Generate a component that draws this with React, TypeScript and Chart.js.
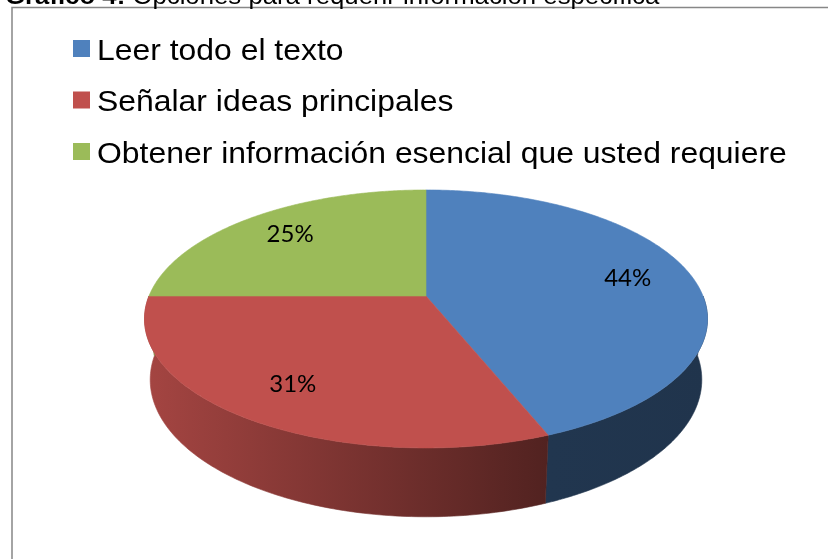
import React, { useEffect, useRef } from "react";
import { Chart, registerables } from "chart.js";

Chart.register(...registerables);

const TITLE_BOLD = "Gráfico 4:";
const TITLE_REST = " Opciones para requerir información específica";
const CATEGORIES = [
  "Leer todo el texto",
  "Señalar ideas principales",
  "Obtener información esencial que usted requiere",
];
const VALUES = [44, 31, 25];
const COLORS = ["#4f81bd", "#c0504d", "#9bbb59"];

const CW = 828;
const CH = 559;

// perspective geometry of the 3D pie
const GEO = { cx: 426, cy: 296, Rx: 277, A: 124.9, B: -0.178, C: 0.02, D: 61 };

function project(theta: number, r: number, h: number) {
  const u = r * Math.cos(theta);
  const v = r * Math.sin(theta);
  const w = 1 + GEO.B * v + GEO.C * h;
  return { x: GEO.cx + (GEO.Rx * u) / w, y: GEO.cy + (GEO.A * v + GEO.D * h) / w };
}

function hexRgb(hex: string) {
  const n = parseInt(hex.slice(1), 16);
  return [(n >> 16) & 255, (n >> 8) & 255, n & 255];
}
function shade(hex: string, f: number) {
  const [r, g, b] = hexRgb(hex);
  return `rgb(${Math.round(r * f)},${Math.round(g * f)},${Math.round(b * f)})`;
}

const pie3d = {
  id: "pie3d",
  beforeDraw(chart: any) {
    const ctx = chart.ctx;
    ctx.save();
    ctx.fillStyle = "#ffffff";
    ctx.fillRect(0, 0, chart.width, chart.height);
    ctx.strokeStyle = "#878787";
    ctx.lineWidth = 1.5;
    ctx.beginPath();
    ctx.moveTo(12, chart.height + 2);
    ctx.lineTo(12, 7.5);
    ctx.lineTo(chart.width + 2, 7.5);
    ctx.stroke();
    ctx.restore();
  },
  beforeDatasetsDraw(chart: any) {
    const ctx = chart.ctx;
    const meta = chart.getDatasetMeta(0);
    const colors = chart.data.datasets[0].backgroundColor as string[];
    const N = 120;
    ctx.save();
    // side walls (front half only)
    meta.data.forEach((arc: any, i: number) => {
      const { startAngle, endAngle } = arc.getProps(["startAngle", "endAngle"], true);
      for (const k of [-2 * Math.PI, 0, 2 * Math.PI]) {
        const lo = Math.max(startAngle, k);
        const hi = Math.min(endAngle, Math.PI + k);
        if (hi <= lo) continue;
        const x0 = GEO.cx - GEO.Rx * 1.02;
        const x1 = GEO.cx + GEO.Rx * 1.02;
        const grad = ctx.createLinearGradient(x0, 0, x1, 0);
        grad.addColorStop(0, shade(colors[i], 0.86));
        grad.addColorStop(0.72, shade(colors[i], 0.42));
        grad.addColorStop(1, shade(colors[i], 0.4));
        ctx.beginPath();
        for (let s = 0; s <= N; s++) {
          const t = lo + ((hi - lo) * s) / N;
          const p = project(t, 1, 0);
          if (s === 0) ctx.moveTo(p.x, p.y);
          else ctx.lineTo(p.x, p.y);
        }
        for (let s = N; s >= 0; s--) {
          const t = lo + ((hi - lo) * s) / N;
          const p = project(t, 1, 1);
          ctx.lineTo(p.x, p.y);
        }
        ctx.closePath();
        ctx.fillStyle = grad;
        ctx.fill();
        ctx.strokeStyle = grad;
        ctx.lineWidth = 0.6;
        ctx.stroke();
      }
    });
    // top faces
    meta.data.forEach((arc: any, i: number) => {
      const { startAngle, endAngle } = arc.getProps(["startAngle", "endAngle"], true);
      const c = project(0, 0, 0);
      ctx.beginPath();
      ctx.moveTo(c.x, c.y);
      for (let s = 0; s <= N * 2; s++) {
        const t = startAngle + ((endAngle - startAngle) * s) / (N * 2);
        const p = project(t, 1, 0);
        ctx.lineTo(p.x, p.y);
      }
      ctx.closePath();
      ctx.fillStyle = colors[i];
      ctx.fill();
      ctx.strokeStyle = colors[i];
      ctx.lineWidth = 0.6;
      ctx.stroke();
    });
    // data labels
    const data = chart.data.datasets[0].data as number[];
    const total = data.reduce((a, b) => a + b, 0);
    ctx.fillStyle = "#000000";
    ctx.font = "24px Lato, 'Open Sans', sans-serif";
    ctx.textAlign = "center";
    ctx.textBaseline = "middle";
    meta.data.forEach((arc: any, i: number) => {
      const { startAngle, endAngle } = arc.getProps(["startAngle", "endAngle"], true);
      const mid = (startAngle + endAngle) / 2;
      const p = project(mid, 0.76, 0);
      ctx.fillText(Math.round((data[i] / total) * 100) + "%", p.x, p.y);
    });
    ctx.restore();
    return false;
  },
  afterDraw(chart: any) {
    const ctx = chart.ctx;
    const labels = chart.data.labels as string[];
    const colors = chart.data.datasets[0].backgroundColor as string[];
    const sx = 1.1;
    ctx.save();
    // legend
    labels.forEach((lab, i) => {
      const y = 40 + i * 51.5;
      ctx.fillStyle = colors[i];
      ctx.fillRect(73, y, 17, 17);
      ctx.save();
      ctx.translate(97, y + 19.5);
      ctx.scale(sx, 1);
      ctx.fillStyle = "#000000";
      ctx.font = "29px Arial, 'Liberation Sans', sans-serif";
      ctx.textAlign = "left";
      ctx.textBaseline = "alphabetic";
      ctx.fillText(lab, 0, 0);
      ctx.restore();
    });
    // title (cut off at the top)
    ctx.save();
    ctx.translate(5, 3.5);
    ctx.scale(1.12, 1);
    ctx.fillStyle = "#000000";
    ctx.textBaseline = "alphabetic";
    ctx.font = "bold 23px Arial, 'Liberation Sans', sans-serif";
    ctx.fillText(TITLE_BOLD, 0, 0);
    const bw = ctx.measureText(TITLE_BOLD).width;
    ctx.font = "23px Arial, 'Liberation Sans', sans-serif";
    ctx.fillText(TITLE_REST, bw, 0);
    ctx.restore();
    ctx.restore();
  },
};

export default function App() {
  const ref = useRef<HTMLCanvasElement | null>(null);
  useEffect(() => {
    document.body.style.margin = "0";
    const canvas = ref.current;
    if (!canvas) return;
    const chart = new Chart(canvas, {
      type: "pie",
      data: {
        labels: CATEGORIES,
        datasets: [{ data: VALUES, backgroundColor: COLORS, borderWidth: 0 }],
      },
      options: {
        responsive: false,
        animation: false,
        events: [],
        plugins: {
          legend: { display: false },
          tooltip: { enabled: false },
          title: { display: false },
        },
      },
      plugins: [pie3d],
    });
    return () => chart.destroy();
  }, []);
  return (
    <div style={{ width: CW, height: CH, overflow: "hidden", background: "#fff" }}>
      <canvas ref={ref} width={CW} height={CH} style={{ display: "block" }} />
    </div>
  );
}
